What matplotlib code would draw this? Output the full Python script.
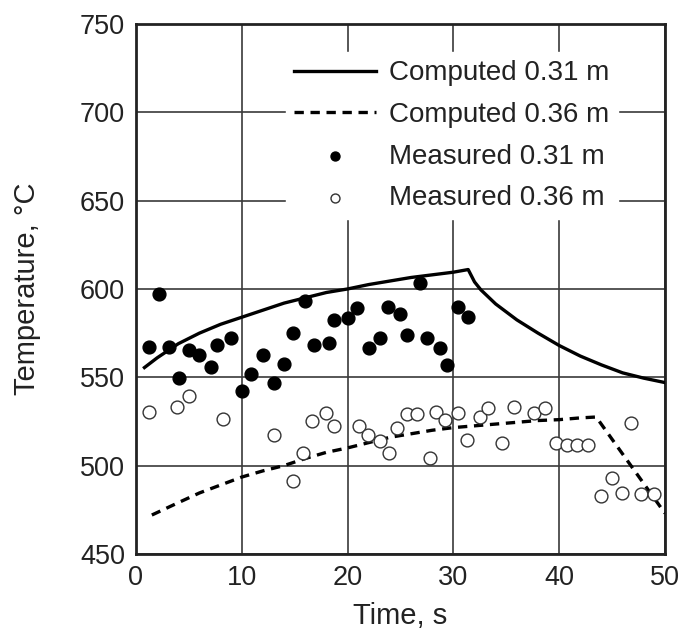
import matplotlib
matplotlib.use("Agg")
import matplotlib.pyplot as plt

plt.rcParams['font.family'] = ['Liberation Sans', 'DejaVu Sans']

# computed curves
t_c31 = [0.8, 2, 4, 6, 8, 10, 12, 14, 16, 18, 20, 22, 24, 26, 28, 30, 31.4,
         32, 32.6, 34, 36, 38, 40, 42, 44, 46, 48, 50]
T_c31 = [555.5, 561, 569, 575, 580, 584, 588, 592, 595, 598, 600, 602.5, 604.5,
         606.5, 608, 609.5, 611, 604, 599.5, 591.5, 582.5, 575, 568, 562, 557,
         552.5, 549.5, 547]

t_c36 = [1.5, 4, 6, 8, 10, 12, 14, 16, 18, 20, 22, 24, 26, 28, 30, 32, 34, 36,
         38, 40, 42, 43.5, 50]
T_c36 = [472, 479, 484.5, 489, 493.5, 497, 500, 504, 507.5, 510, 513, 516, 518,
         520, 521.5, 522.5, 523.5, 524.5, 525.5, 526, 527, 527.5, 473]

# measured points
t_m31 = [1.2, 2.2, 3.1, 4.1, 5.0, 6.0, 7.1, 7.7, 9.0, 10.0, 10.9, 12.0, 13.0,
         14.0, 14.8, 16.0, 16.8, 18.2, 18.7, 20.0, 20.9, 22.0, 23.1, 23.8, 25.0,
         25.6, 26.8, 27.5, 28.7, 29.4, 30.4, 31.4]
T_m31 = [567, 597, 567, 549.5, 565.5, 562.5, 556, 568, 572, 542.5, 552, 562.5,
         546.5, 557.5, 575, 593, 568, 569.5, 582.5, 583.5, 589.5, 566.5, 572,
         590, 586, 574, 603.5, 572, 566.5, 557, 590, 584]

t_m36 = [1.2, 3.9, 5.0, 8.2, 13.0, 14.8, 15.8, 16.6, 18.0, 18.7, 21.1, 21.9,
         23.1, 23.9, 24.7, 25.6, 26.6, 27.8, 28.4, 29.2, 30.4, 31.3, 32.5, 33.3,
         34.6, 35.7, 37.6, 38.7, 39.7, 40.7, 41.7, 42.7, 44.0, 45.0, 45.9, 46.8,
         47.7, 49.0]
T_m36 = [530.5, 533, 539.5, 526.5, 517.5, 491, 507, 525.5, 530, 522.5, 522.5,
         517.5, 514, 507, 521, 529, 529, 504.5, 530.5, 526, 530, 514.5, 527.5,
         532.5, 513, 533, 529.5, 532.5, 512.5, 511.5, 511.5, 511.5, 483, 493,
         484.5, 524, 484, 484]

fig = plt.figure(figsize=(6.82, 6.33), dpi=100)
ax = fig.add_axes([0.1994, 0.125, 0.7756, 0.837])

ax.plot(t_c31, T_c31, color='black', lw=2.4, label='Computed 0.31 m', zorder=3)
ax.plot(t_c36, T_c36, color='black', lw=2.4, ls=(0, (2.8, 2.0)),
        label='Computed 0.36 m', zorder=3)
ax.scatter(t_m31, T_m31, s=85, color='black', label='Measured 0.31 m', zorder=4)
ax.scatter(t_m36, T_m36, s=85, facecolor='white', edgecolor='#333333',
           linewidth=1.0, label='Measured 0.36 m', zorder=4)

ax.set_xlim(0, 50)
ax.set_ylim(450, 750)
ax.set_xticks([0, 10, 20, 30, 40, 50])
ax.set_yticks([450, 500, 550, 600, 650, 700, 750])
ax.grid(True, color='#3a3a3a', lw=1.2)
ax.set_axisbelow(True)
ax.tick_params(length=0, labelsize=19.5, pad=8, colors='#222222')
for sp in ax.spines.values():
    sp.set_linewidth(2.0)
    sp.set_color('#222222')

ax.set_xlabel('Time, s', fontsize=21, color='#222222', labelpad=8)
ax.set_ylabel('Temperature, °C', fontsize=21, color='#222222', labelpad=28)

leg = ax.legend(loc='upper right', bbox_to_anchor=(0.911, 0.947), fontsize=20,
                frameon=True, framealpha=1.0, edgecolor='white', fancybox=False,
                handlelength=2.95, labelspacing=0.56, markerscale=0.7,
                borderpad=0.3, borderaxespad=0, handletextpad=0.47)
for txt in leg.get_texts():
    txt.set_color('#222222')

fig.savefig('out.png', dpi=100)
